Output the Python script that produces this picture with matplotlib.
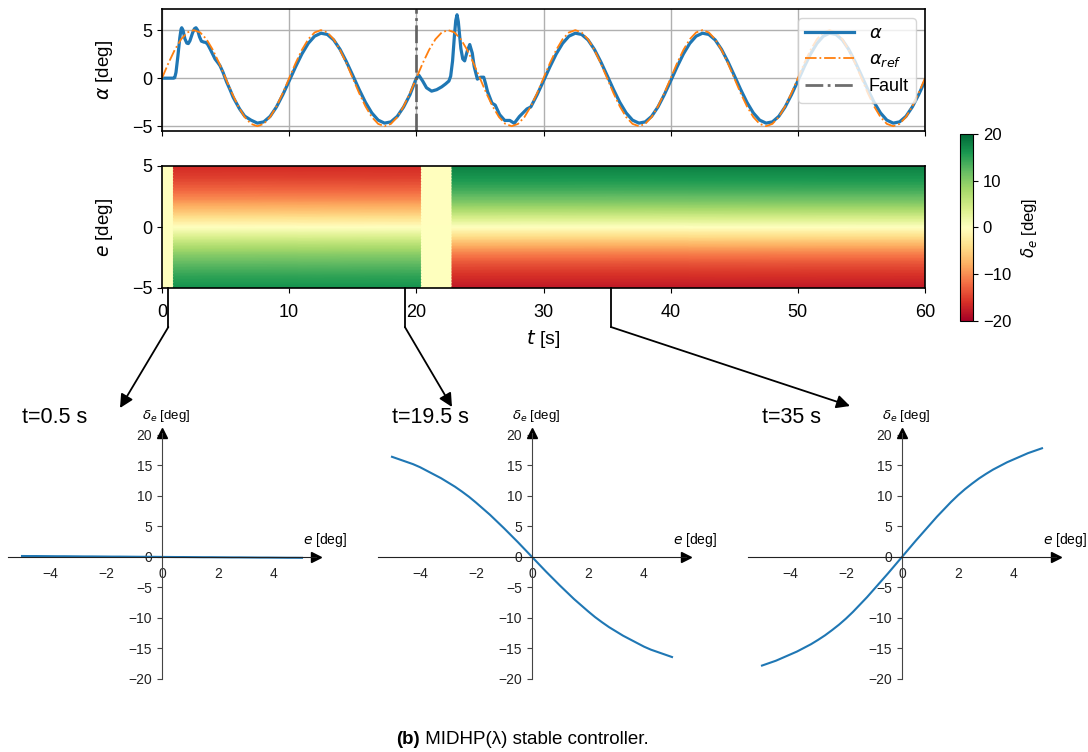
import numpy as np
import matplotlib
matplotlib.use('Agg')
import matplotlib.pyplot as plt
from matplotlib.lines import Line2D
from matplotlib.patches import FancyArrowPatch

plt.rcParams['font.family'] = ['Liberation Sans', 'DejaVu Sans']

# ------------------------------------------------------------
# data
# ------------------------------------------------------------
# reference angle, every 0.5 s from 0 to 60 s
ref_t = np.arange(0, 60.5, 0.5)
alpha_ref = [
    0.0, 1.55, 2.94, 4.05, 4.76, 5.0, 4.76, 4.05, 2.94, 1.55,
    0.0, -1.55, -2.94, -4.05, -4.76, -5.0, -4.76, -4.05, -2.94, -1.55,
    0.0, 1.55, 2.94, 4.05, 4.76, 5.0, 4.76, 4.05, 2.94, 1.55,
    0.0, -1.55, -2.94, -4.05, -4.76, -5.0, -4.76, -4.05, -2.94, -1.55,
    0.0, 1.55, 2.94, 4.05, 4.76, 5.0, 4.76, 4.05, 2.94, 1.55,
    0.0, -1.55, -2.94, -4.05, -4.76, -5.0, -4.76, -4.05, -2.94, -1.55,
    0.0, 1.55, 2.94, 4.05, 4.76, 5.0, 4.76, 4.05, 2.94, 1.55,
    0.0, -1.55, -2.94, -4.05, -4.76, -5.0, -4.76, -4.05, -2.94, -1.55,
    0.0, 1.55, 2.94, 4.05, 4.76, 5.0, 4.76, 4.05, 2.94, 1.55,
    0.0, -1.55, -2.94, -4.05, -4.76, -5.0, -4.76, -4.05, -2.94, -1.55,
    0.0, 1.55, 2.94, 4.05, 4.76, 5.0, 4.76, 4.05, 2.94, 1.55,
    0.0, -1.55, -2.94, -4.05, -4.76, -5.0, -4.76, -4.05, -2.94, -1.55,
    0.0,
]

# measured angle: start-up transient
start_t = [0.0, 0.5, 0.9, 1.0, 1.1, 1.25, 1.4, 1.5, 1.55, 1.65, 1.8, 1.95,
           2.07, 2.2, 2.4, 2.55, 2.67, 2.8, 2.95, 3.1, 3.3, 3.45, 3.6, 3.8,
           3.95, 4.17, 4.4, 4.56, 4.8, 5.08, 5.35, 5.6, 5.85, 6.1, 6.5]
start_v = [0.0, 0.0, 0.0, 0.05, 0.6, 2.3, 4.2, 5.1, 5.25, 5.0, 4.1, 3.65,
           3.6, 3.9, 4.7, 5.15, 5.25, 5.0, 4.3, 3.85, 3.75, 3.72, 3.5, 3.0,
           2.6, 2.0, 1.6, 1.3, 0.6, -0.4, -1.2, -2.0, -2.6, -3.2, -3.95]

# tracking before the fault, every 0.5 s from 7 to 19.5 s
track1_t = np.arange(7.0, 20.0, 0.5)
track1_v = [-4.37, -4.68, -4.55, -3.98, -3.00, -1.72,
            -0.29, 1.17, 2.52, 3.62, 4.37, 4.68, 4.55, 3.98, 3.00, 1.72,
            0.29, -1.17, -2.52, -3.62, -4.37, -4.68, -4.55, -3.98, -3.00, -1.72]

# transient after the fault at t = 20 s
fault_t = [20.0, 20.2, 20.5, 20.8, 21.2, 21.6, 22.0, 22.3, 22.56, 22.7, 22.85,
           23.0, 23.1, 23.2, 23.3, 23.5, 23.65, 23.8, 24.0, 24.2, 24.4, 24.55,
           24.8, 25.05, 25.3, 25.45, 25.6, 25.95, 26.2, 26.55, 26.95, 27.35,
           27.7, 28.1, 28.7]
fault_v = [0.0, 0.3, -0.3, -1.0, -1.35, -1.2, -0.9, -0.6, -0.3, 0.2, 1.8,
           4.5, 6.0, 6.6, 5.9, 3.1, 2.0, 1.8, 2.8, 3.5, 2.6, 1.2,
           -0.1, 0.1, 0.1, -0.6, -1.4, -2.6, -2.8, -3.8, -4.4, -4.4,
           -4.7, -4.0, -3.2]

# tracking after recovery, every 0.5 s from 29 to 60 s
track2_t = np.arange(29.0, 60.5, 0.5)
track2_v = [-3.00, -1.72,
            -0.29, 1.17, 2.52, 3.62, 4.37, 4.68, 4.55, 3.98, 3.00, 1.72,
            0.29, -1.17, -2.52, -3.62, -4.37, -4.68, -4.55, -3.98, -3.00, -1.72,
            -0.29, 1.17, 2.52, 3.62, 4.37, 4.68, 4.55, 3.98, 3.00, 1.72,
            0.29, -1.17, -2.52, -3.62, -4.37, -4.68, -4.55, -3.98, -3.00, -1.72,
            -0.29, 1.17, 2.52, 3.62, 4.37, 4.68, 4.55, 3.98, 3.00, 1.72,
            0.29, -1.17, -2.52, -3.62, -4.37, -4.68, -4.55, -3.98, -3.00, -1.72,
            -0.29]

alpha_t = np.concatenate([start_t, track1_t, fault_t, track2_t])
alpha_v = np.concatenate([start_v, track1_v, fault_v, track2_v])

# controller output delta_e(e) at the three snapshots, e every 0.25 deg
e_grid = np.arange(-5, 5.01, 0.25)
de_05 = [0.15, 0.14, 0.14, 0.13, 0.12, 0.11, 0.11, 0.10, 0.09, 0.08, 0.08,
         0.07, 0.06, 0.05, 0.05, 0.04, 0.03, 0.02, 0.02, 0.01, 0.0,
         -0.01, -0.02, -0.02, -0.03, -0.04, -0.05, -0.05, -0.06, -0.07, -0.08,
         -0.08, -0.09, -0.10, -0.11, -0.11, -0.12, -0.13, -0.14, -0.14, -0.15]
de_195 = [16.4, 16.0, 15.6, 15.2, 14.7, 14.1, 13.5, 12.9, 12.2, 11.5, 10.7,
          9.85, 8.9, 7.9, 6.9, 5.8, 4.7, 3.55, 2.4, 1.2, 0.0,
          -1.2, -2.4, -3.55, -4.7, -5.8, -6.9, -7.9, -8.9, -9.85, -10.7,
          -11.5, -12.2, -12.9, -13.5, -14.1, -14.7, -15.2, -15.6, -16.0, -16.4]
de_35 = [-17.8, -17.4, -17.0, -16.5, -16.0, -15.5, -14.9, -14.3, -13.6, -12.85, -12.0,
         -11.1, -10.1, -9.0, -7.8, -6.6, -5.3, -4.0, -2.7, -1.35, 0.0,
         1.35, 2.7, 4.0, 5.3, 6.6, 7.8, 9.0, 10.1, 11.1, 12.0,
         12.85, 13.6, 14.3, 14.9, 15.5, 16.0, 16.5, 17.0, 17.4, 17.8]

# which controller is active over time (heatmap columns)
hm_t = [0.0, 0.9, 0.9, 20.4, 20.4, 22.8, 22.8, 60.0]
hm_cols = [de_05, de_05, de_195, de_195, de_05, de_05, de_35, de_35]

snap_labels = ['t=0.5 s', 't=19.5 s', 't=35 s']
snap_curves = [de_05, de_195, de_35]
arrow_t = [0.5, 19.1, 35.3]
arrow_tips = [(120, 408), (452, 407), (850, 406)]   # figure pixels (top-left origin)

# ------------------------------------------------------------
# figure
# ------------------------------------------------------------
W, H = 1088, 752
fig = plt.figure(figsize=(W / 100, H / 100), dpi=100)


def px_box(left, top, right, bottom):
    return [left / W, 1 - bottom / H, (right - left) / W, (bottom - top) / H]


# --- alpha tracking ---
ax1 = fig.add_axes(px_box(162, 9, 925, 131))
ax1.plot(alpha_t, alpha_v, color='#1f77b4', lw=2.3, label=r'$\alpha$')
ax1.plot(ref_t, alpha_ref, color='#ff7f0e', lw=1.3, ls='-.', label=r'$\alpha_{ref}$')
ax1.axvline(20, color='#555555', lw=2, ls='-.', alpha=0.85, label='Fault')
ax1.set_xlim(0, 60)
ax1.set_ylim(-5.5, 7.2)
ax1.set_xticks(range(0, 61, 10))
ax1.set_yticks([-5, 0, 5])
ax1.tick_params(labelbottom=False, labelsize=13)
ax1.grid(True, color='#b0b0b0', lw=1.0)
ax1.set_ylabel(r'$\alpha$ [deg]', fontsize=13.5)
ax1.yaxis.set_label_coords(-0.062, 0.5)
for s in ax1.spines.values():
    s.set_linewidth(1.2)
ax1.legend(loc='upper right', fontsize=13, handlelength=2.7, borderaxespad=0.5)

# --- controller heatmap ---
ax2 = fig.add_axes(px_box(162, 166, 925, 288))
X, Y = np.meshgrid(hm_t, e_grid)
C = np.column_stack(hm_cols)
mesh = ax2.pcolormesh(X, Y, C, shading='gouraud', cmap='RdYlGn', vmin=-20, vmax=20)
ax2.set_xlim(0, 60)
ax2.set_ylim(-5, 5)
ax2.set_xticks(range(0, 61, 10))
ax2.set_yticks([-5, 0, 5])
ax2.tick_params(labelsize=13)
ax2.tick_params(axis='x', pad=8)
ax2.set_xlabel(r'$t$ [s]', fontsize=14, labelpad=5)
ax2.set_ylabel(r'$e$ [deg]', fontsize=13.5)
ax2.yaxis.set_label_coords(-0.062, 0.5)
for s in ax2.spines.values():
    s.set_linewidth(1.2)

cax = fig.add_axes(px_box(960, 134, 973, 321))
cb = fig.colorbar(mesh, cax=cax, ticks=[-20, -10, 0, 10, 20])
cb.ax.tick_params(labelsize=12)
cb.set_label(r'$\delta_e$ [deg]', fontsize=12, labelpad=6)

# --- snapshots of the controller ---
for i, left in enumerate([8, 378, 748]):
    ax = fig.add_axes(px_box(left, 433, left + 308, 679))
    ax.plot(e_grid, snap_curves[i], color='#1f77b4', lw=1.5)
    ax.set_xlim(-5.5, 5.5)
    ax.set_ylim(-20, 20.3)
    ax.spines['left'].set_position(('data', 0))
    ax.spines['bottom'].set_position(('data', 0))
    ax.spines['top'].set_visible(False)
    ax.spines['right'].set_visible(False)
    ax.spines['left'].set_color('#444444')
    ax.spines['bottom'].set_color('#222222')
    ax.set_xticks([-4, -2, 0, 2, 4])
    ax.set_yticks(range(-20, 21, 5))
    ax.tick_params(axis='x', length=0, pad=7, labelsize=10, colors='#222222')
    ax.tick_params(axis='y', labelsize=10, colors='#222222', color='#444444')
    ax.patch.set_alpha(0)
    ax.plot(1, 0, '>', color='k', ms=7, transform=ax.get_yaxis_transform(), clip_on=False)
    ax.plot(0, 1, '^', color='k', ms=7, transform=ax.get_xaxis_transform(), clip_on=False)
    ax.text(0.15, 21.7, r'$\delta_e$ [deg]', fontsize=9.5, ha='center', va='bottom')
    ax.text(6.6, 2.8, r'$e$ [deg]', fontsize=10, ha='right', va='center')
    ax.text(0.045, 1.062, snap_labels[i], fontsize=15.5, ha='left', va='center',
            transform=ax.transAxes)

# --- connectors from the heatmap to the snapshots ---
for t_a, tip in zip(arrow_t, arrow_tips):
    bx, by = ax2.transData.transform((t_a, -5))
    bend = (bx / W, (by - 39) / H)
    base = (bx / W, by / H)
    tip_f = (tip[0] / W, 1 - tip[1] / H)
    fig.add_artist(Line2D([base[0], bend[0]], [base[1], bend[1]],
                          transform=fig.transFigure, color='k', lw=1.3))
    fig.add_artist(FancyArrowPatch(bend, tip_f, transform=fig.transFigure,
                                   arrowstyle='-|>', mutation_scale=20,
                                   color='k', lw=1.3, shrinkA=0, shrinkB=0))

# --- caption ---
cap = fig.text(396 / W, 1 - 739 / H, '(b)', fontsize=13.5, fontweight='bold',
               ha='left', va='center')
fig.text(0, 0, '', fontsize=1)
plt.annotate(' MIDHP(λ) stable controller.', xy=(1, 0.5), xycoords=cap,
             fontsize=13.5, ha='left', va='center', annotation_clip=False)

fig.savefig('out.png', dpi=100)
